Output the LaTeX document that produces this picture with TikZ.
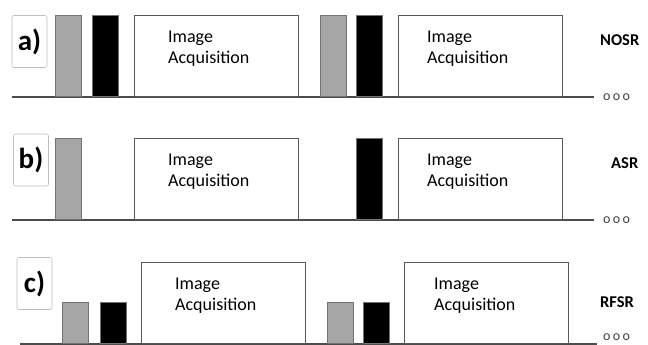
\documentclass[tikz,border=0pt]{standalone}
\usepackage{fontspec}
\setmainfont{Carlito}
\usetikzlibrary{positioning}
\tikzset{
  base/.style={draw=black!70, line width=1.3pt},
  graybar/.style={draw=black!55, fill=black!35, line width=1.2pt, inner sep=0pt,
    minimum width=26pt, anchor=south west},
  blackbar/.style={draw=black!55, fill=black, line width=1.2pt, inner sep=0pt,
    minimum width=26pt, anchor=south west},
  acqbox/.style={draw=black!65, fill=white, line width=1.2pt, inner sep=0pt,
    minimum width=164pt, minimum height=81pt, anchor=south west},
  acqtext/.style={anchor=north west, align=left, inner sep=0pt,
    font=\fontsize{18}{21}\selectfont},
  tag/.style={draw=black!25, fill=white, rounded corners=2pt, line width=0.6pt,
    minimum width=35pt, minimum height=52pt, inner sep=0pt,
    font=\fontsize{29}{29}\selectfont\bfseries},
  mode/.style={font=\fontsize{16.5}{16.5}\selectfont\bfseries, anchor=west, inner sep=0pt},
  dots/.style={font=\fontsize{14}{14}\selectfont, anchor=west, inner sep=0pt, text=black!75}
}
\begin{document}
\begin{tikzpicture}[x=1pt,y=-1pt]
  \useasboundingbox (0,0) rectangle (648,345);
  % a) NOSR
  \coordinate (a0) at (12,97);
  \coordinate (a1) at (594,97);
  \draw[base] (a0) -- (a1);
  \node[tag] (tagA) at (29.5,41.5) {a)};
  \node[graybar, minimum height=81pt] (gA1) at (55,97) {};
  \node[blackbar, minimum height=81pt] (kA1) at (92,97) {};
  \node[acqbox] (boxA1) at (134,97) {};
  \node[acqtext] (txtA1) at (168,31) {Image\\Acquisition};
  \node[graybar, minimum height=81pt] (gA2) at (320,97) {};
  \node[blackbar, minimum height=81pt] (kA2) at (356,97) {};
  \node[acqbox] (boxA2) at (398,97) {};
  \node[acqtext] (txtA2) at (427,31) {Image\\Acquisition};
  \node[mode] (modeA) at (600,40) {NOSR};
  \node[dots] (dotsA) at (603,97) {o\,o\,o};
  % b) ASR
  \coordinate (b0) at (12,220);
  \coordinate (b1) at (594,220);
  \draw[base] (b0) -- (b1);
  \node[tag] (tagB) at (31,160) {b)};
  \node[graybar, minimum height=81pt] (gB1) at (55,220) {};
  \node[acqbox] (boxB1) at (134,220) {};
  \node[acqtext] (txtB1) at (168,154) {Image\\Acquisition};
  \node[blackbar, minimum height=81pt] (kB2) at (356,220) {};
  \node[acqbox] (boxB2) at (398,220) {};
  \node[acqtext] (txtB2) at (427,154) {Image\\Acquisition};
  \node[mode] (modeB) at (611,163) {ASR};
  \node[dots] (dotsB) at (603,220) {o\,o\,o};
  % c) RFSR
  \coordinate (c0) at (20,344);
  \coordinate (c1) at (597,344);
  \draw[base] (c0) -- (c1);
  \node[tag] (tagC) at (34.5,283.5) {c)};
  \node[graybar, minimum height=41pt] (gC1) at (62,344) {};
  \node[blackbar, minimum height=41pt] (kC1) at (100,344) {};
  \node[acqbox] (boxC1) at (141,344) {};
  \node[acqtext] (txtC1) at (175,278) {Image\\Acquisition};
  \node[graybar, minimum height=41pt] (gC2) at (327,344) {};
  \node[blackbar, minimum height=41pt] (kC2) at (363,344) {};
  \node[acqbox] (boxC2) at (404,344) {};
  \node[acqtext] (txtC2) at (434,278) {Image\\Acquisition};
  \node[mode] (modeC) at (600,302) {RFSR};
  \node[dots] (dotsC) at (603,337) {o\,o\,o};
\end{tikzpicture}
\end{document}
